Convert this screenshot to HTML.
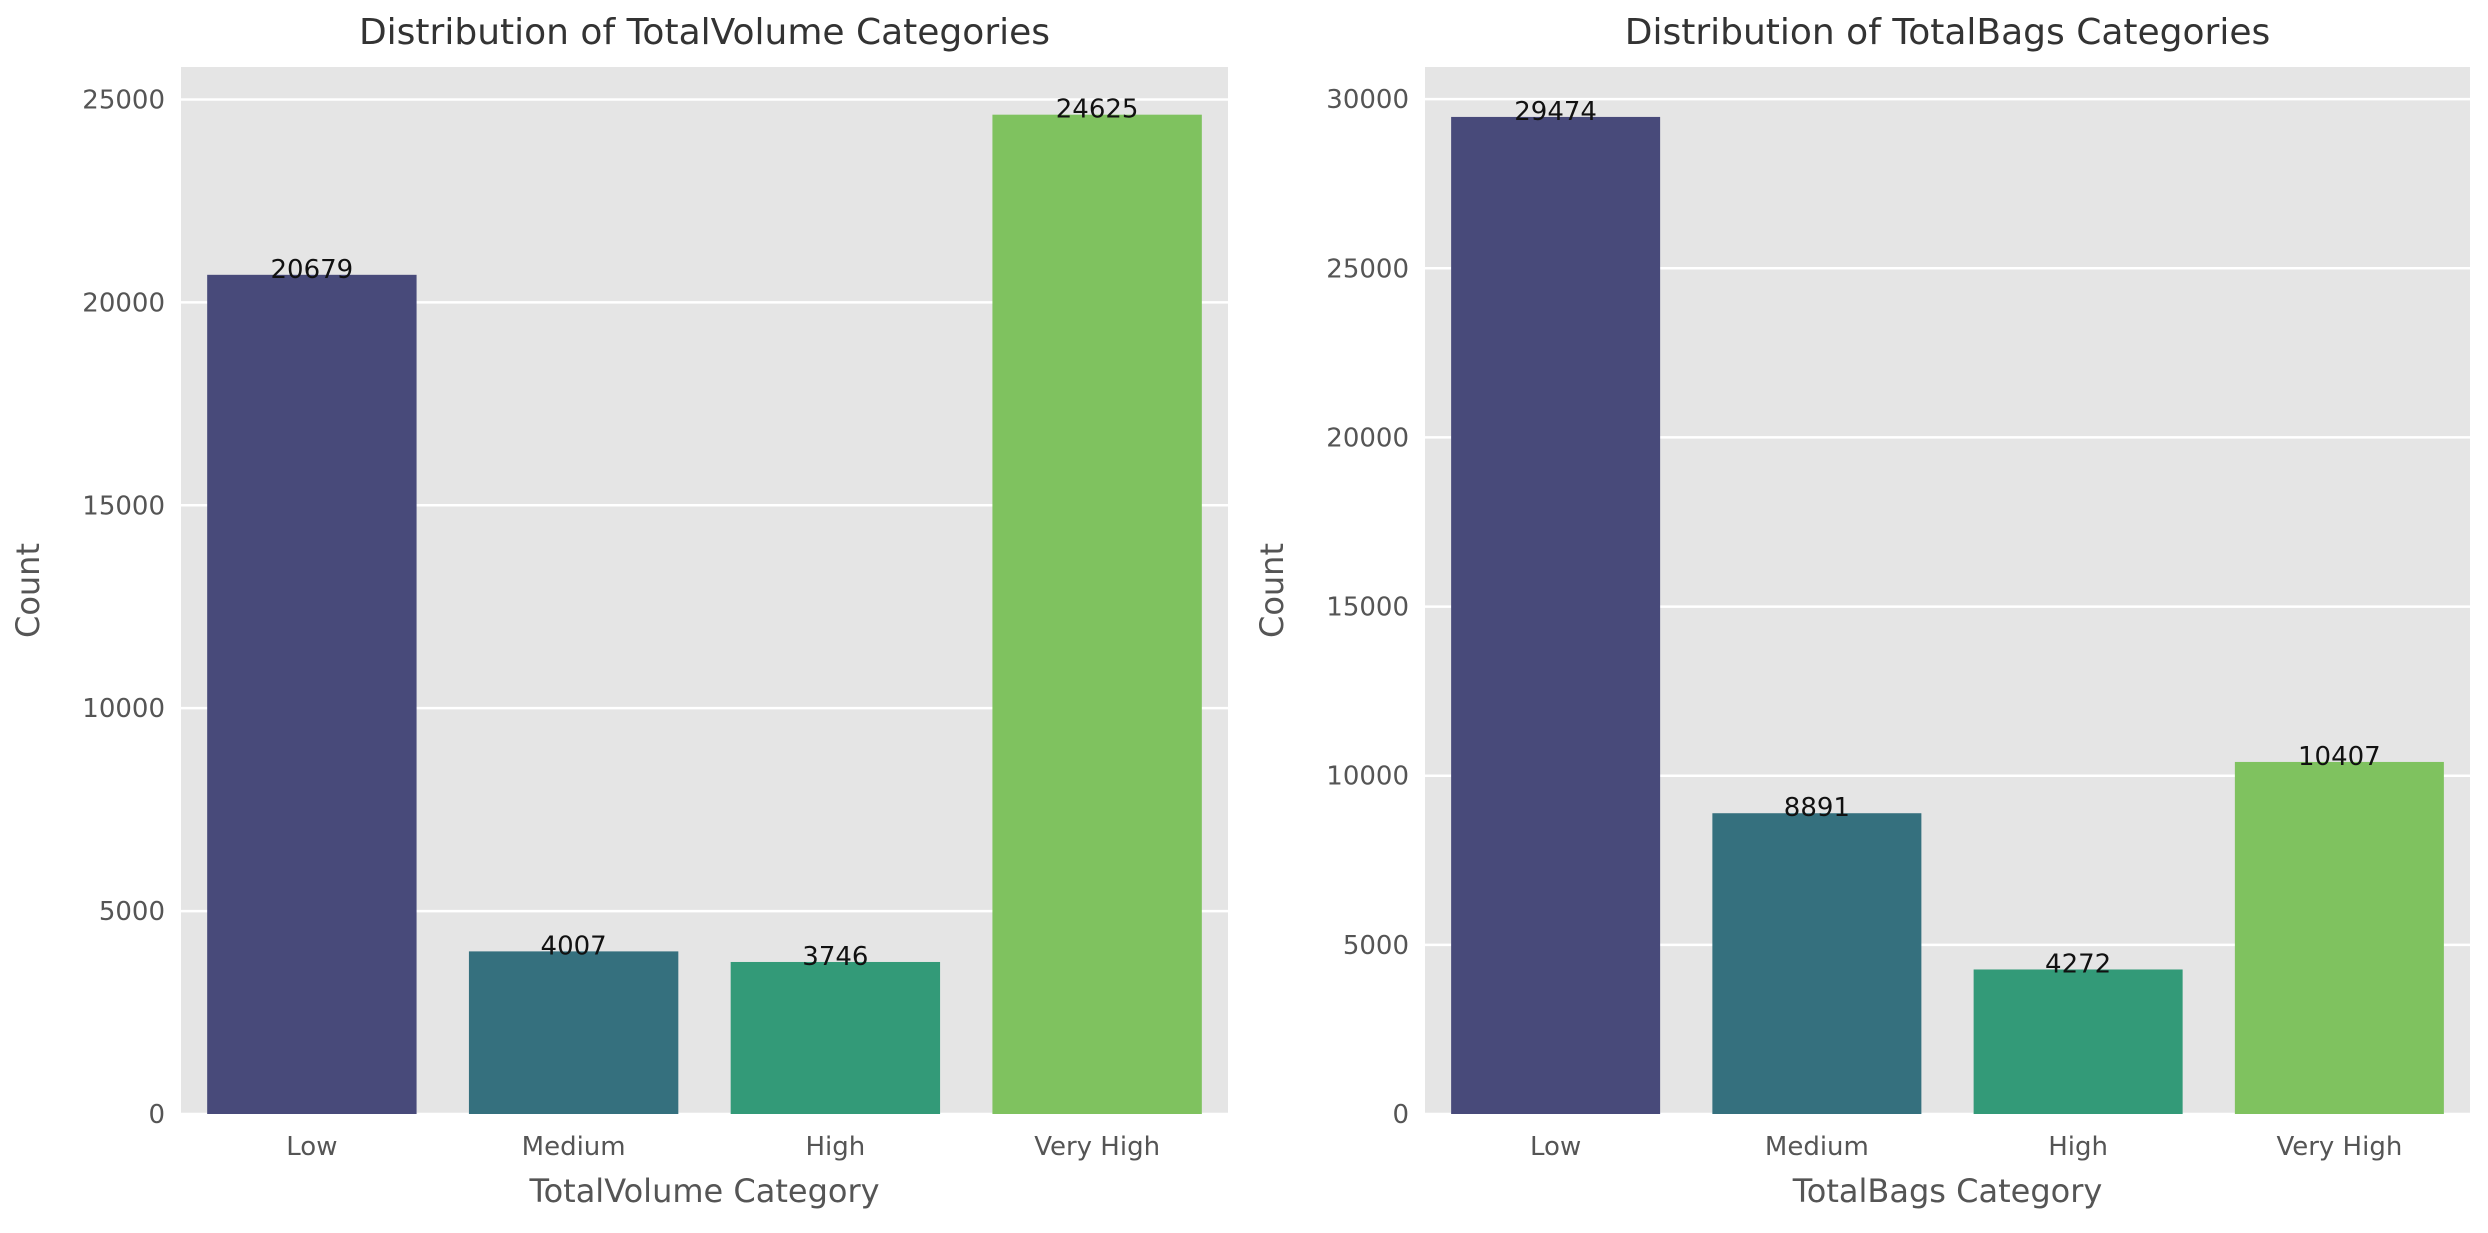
<!DOCTYPE html>
<html><head><meta charset="utf-8"><style>
html,body{margin:0;padding:0;background:#fff;}
svg{display:block;font-family:"DejaVu Sans","Liberation Sans",sans-serif;}
</style></head><body>
<svg id="c" width="2488" height="1233" viewBox="0 0 2488 1233"></svg>
<script>
const categories = ["Low","Medium","High","Very High"];
const volumeCounts = [20679, 4007, 3746, 24625];
const bagsCounts = [29474, 8891, 4272, 10407];
const volumeTicks = [0,5000,10000,15000,20000,25000];
const bagsTicks = [0,5000,10000,15000,20000,25000,30000];
const colors = ["#484a7a","#35707e","#339a78","#7fc25f"];
const NS = "http://www.w3.org/2000/svg";
const svg = document.getElementById('c');
function mk(tag, attrs, parent){const e=document.createElementNS(NS,tag);for(const k in attrs)e.setAttribute(k,attrs[k]);(parent||svg).appendChild(e);return e;}
function panel(cfg){
  const g = mk('g',{});
  
  
  const L=cfg.left,R=cfg.right,T=67,B=1114;
  const y = v => B - v/cfg.ymax*(B-T);
  const bandW=(R-L)/categories.length;
  const x = i => L + bandW*(i+0.5);
  const bg = mk('rect',{x:L,y:T,width:R-L,height:B-T,fill:'#e5e5e5'},g);
  
  
  cfg.ticks.forEach(t=>{
    const ln = mk('line',{x1:L,x2:R,y1:y(t),y2:y(t),stroke:'#fff','stroke-width':2.5},g);
    
    
    const tx = mk('text',{x:L-16,y:y(t)+9,'text-anchor':'end','font-size':26,fill:'#555'},g);
    tx.textContent=t;
    
    
  });
  cfg.values.forEach((v,i)=>{
    const bw=bandW*0.8;
    const r = mk('rect',{x:x(i)-bw/2,y:y(v),width:bw,height:B-y(v),fill:colors[i]},g);
    
    
    const vt = mk('text',{x:x(i),y:y(v)+3,'text-anchor':'middle','font-size':26,fill:'#111'},g);
    vt.textContent=v;
    
    
    const ct = mk('text',{x:x(i),y:1155,'text-anchor':'middle','font-size':26,fill:'#555'},g);
    ct.textContent=categories[i];
    
    
  });
  const title = mk('text',{x:(L+R)/2,y:44,'text-anchor':'middle','font-size':36,fill:'#333'},g);
  title.textContent=cfg.title;
  
  
  const xl = mk('text',{x:(L+R)/2,y:1202,'text-anchor':'middle','font-size':32,fill:'#555'},g);
  xl.textContent=cfg.xlabel;
  
  
  const cy=(T+B)/2;
  const yl = mk('text',{x:cfg.left-142,y:cy,'text-anchor':'middle','font-size':32,fill:'#555',transform:`rotate(-90 ${cfg.left-142} ${cy})`},g);
  yl.textContent='Count';
  
  
}
panel({name:'totalvolume-chart',left:181,right:1228,ymax:25800,ticks:volumeTicks,values:volumeCounts,title:'Distribution of TotalVolume Categories',xlabel:'TotalVolume Category'});
panel({name:'totalbags-chart',left:1425,right:2470,ymax:30950,ticks:bagsTicks,values:bagsCounts,title:'Distribution of TotalBags Categories',xlabel:'TotalBags Category'});
</script>
</body></html>
